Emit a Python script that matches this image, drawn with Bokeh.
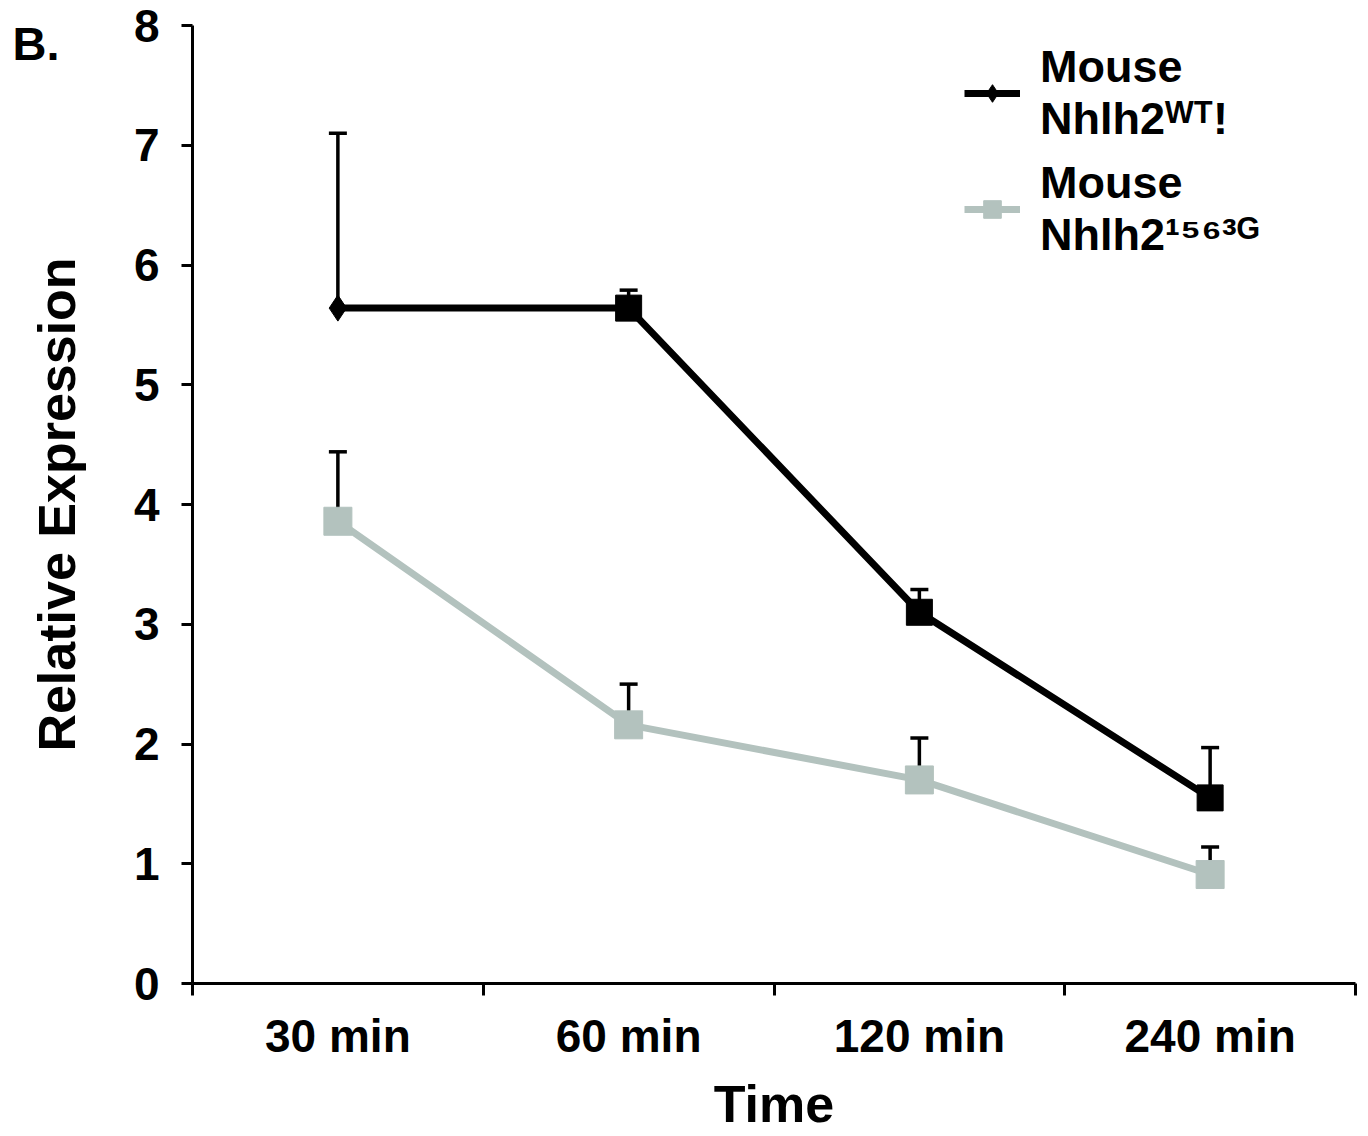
from bokeh.plotting import figure
from bokeh.models import (ColumnDataSource, Whisker, TeeHead, FixedTicker,
                          Range1d, Legend, LegendItem)
from bokeh.embed import file_html
from bokeh.resources import INLINE

# ---------------- data ----------------
categories = ["30 min", "60 min", "120 min", "240 min"]
wt_mean = [5.64, 5.64, 3.10, 1.55]
wt_err = [1.46, 0.15, 0.19, 0.42]
mut_mean = [3.86, 2.16, 1.70, 0.91]
mut_err = [0.58, 0.34, 0.35, 0.23]
y_ticks = [0, 1, 2, 3, 4, 5, 6, 7, 8]
wt_label = "Mouse\nNhlh2\u1d42\u1d40!"
mut_label = "Mouse\nNhlh2\u00b9\u2075\u2076\u00b3\u1d33"
x_title = "Time"
y_title = "Relative Expression"
panel_letter = "B."

# ---------------- style ----------------
FONT = "Liberation Sans"
GRAY = "#b3c2be"
wt_markers = ["diamond", "square", "square", "square"]

xs = [i + 0.5 for i in range(len(categories))]
bounds = list(range(len(categories) + 1))

wt_src = ColumnDataSource(dict(x=xs, y=wt_mean, up=[m + e for m, e in zip(wt_mean, wt_err)],
                               marker=wt_markers))
mut_src = ColumnDataSource(dict(x=xs, y=mut_mean, up=[m + e for m, e in zip(mut_mean, mut_err)]))

p = figure(width=1360, height=1136, x_range=Range1d(0, len(categories)),
           y_range=Range1d(y_ticks[0], y_ticks[-1]),
           output_backend="svg", toolbar_location=None,
           min_border_left=192, min_border_top=25, min_border_right=5, min_border_bottom=153)
p.outline_line_color = None
p.grid.visible = False

# panel letter as the figure title, pulled left and down next to the top tick
p.title.text = panel_letter
p.title.align = "left"
p.title.offset = -180
p.title.vertical_align = "bottom"
p.title.standoff = -88
p.title.text_font = FONT
p.title.text_font_style = "bold"
p.title.text_font_size = "47px"
p.title.text_color = "black"

# error bars (upper only)
for src in (wt_src, mut_src):
    w = Whisker(base="x", upper="up", lower="y", source=src, dimension="height",
                line_color="black", line_width=3.5, lower_head=None,
                upper_head=TeeHead(size=18, line_width=3.5, line_color="black"))
    p.add_layout(w)

mut_line = p.line("x", "y", source=mut_src, line_color=GRAY, line_width=7)
mut_pts = p.scatter("x", "y", source=mut_src, marker="square", size=28, fill_color=GRAY,
                    line_color=GRAY)
wt_line = p.line("x", "y", source=wt_src, line_color="black", line_width=7)
wt_pts = p.scatter("x", "y", source=wt_src, marker="marker", size=26, fill_color="black",
                   line_color="black")

legend = Legend(items=[LegendItem(label=wt_label, renderers=[wt_line, wt_pts], index=0),
                       LegendItem(label=mut_label, renderers=[mut_line, mut_pts], index=0)],
                location=(772, 722), padding=0, spacing=12, margin=0,
                border_line_color=None, background_fill_alpha=0,
                glyph_width=56, glyph_height=44, label_standoff=20,
                label_text_font=FONT, label_text_font_style="bold",
                label_text_color="black",
                label_text_font_size="45px", label_text_line_height=1.4)
p.add_layout(legend)

# axes
xa = p.xaxis[0]
xa.ticker = FixedTicker(ticks=xs, minor_ticks=bounds)
xa.major_label_overrides = {x: c for x, c in zip(xs, categories)}
xa.major_tick_line_color = None
xa.major_tick_out = 0
xa.major_tick_in = 0
xa.minor_tick_out = 12
xa.minor_tick_in = 0
xa.minor_tick_line_width = 3
xa.minor_tick_line_color = "black"
xa.axis_line_width = 3
xa.axis_line_color = "black"
xa.major_label_text_font = FONT
xa.major_label_text_font_style = "bold"
xa.major_label_text_font_size = "46px"
xa.major_label_text_color = "black"
xa.major_label_standoff = 14
xa.axis_label = x_title
xa.axis_label_text_font = FONT
xa.axis_label_text_font_style = "bold"
xa.axis_label_text_font_size = "52px"
xa.axis_label_text_color = "black"
xa.axis_label_standoff = 10

ya = p.yaxis[0]
ya.ticker = FixedTicker(ticks=y_ticks)
ya.major_tick_out = 11
ya.major_tick_in = 0
ya.major_tick_line_width = 3
ya.minor_tick_line_color = None
ya.axis_line_width = 3
ya.axis_line_color = "black"
ya.major_label_text_font = FONT
ya.major_label_text_font_style = "bold"
ya.major_label_text_font_size = "46px"
ya.major_label_text_color = "black"
ya.major_label_standoff = 22
ya.axis_label = y_title
ya.axis_label_text_font = FONT
ya.axis_label_text_font_style = "bold"
ya.axis_label_text_font_size = "52px"
ya.axis_label_text_color = "black"
ya.axis_label_standoff = 45

open("out.html", "w").write(file_html(p, INLINE))
